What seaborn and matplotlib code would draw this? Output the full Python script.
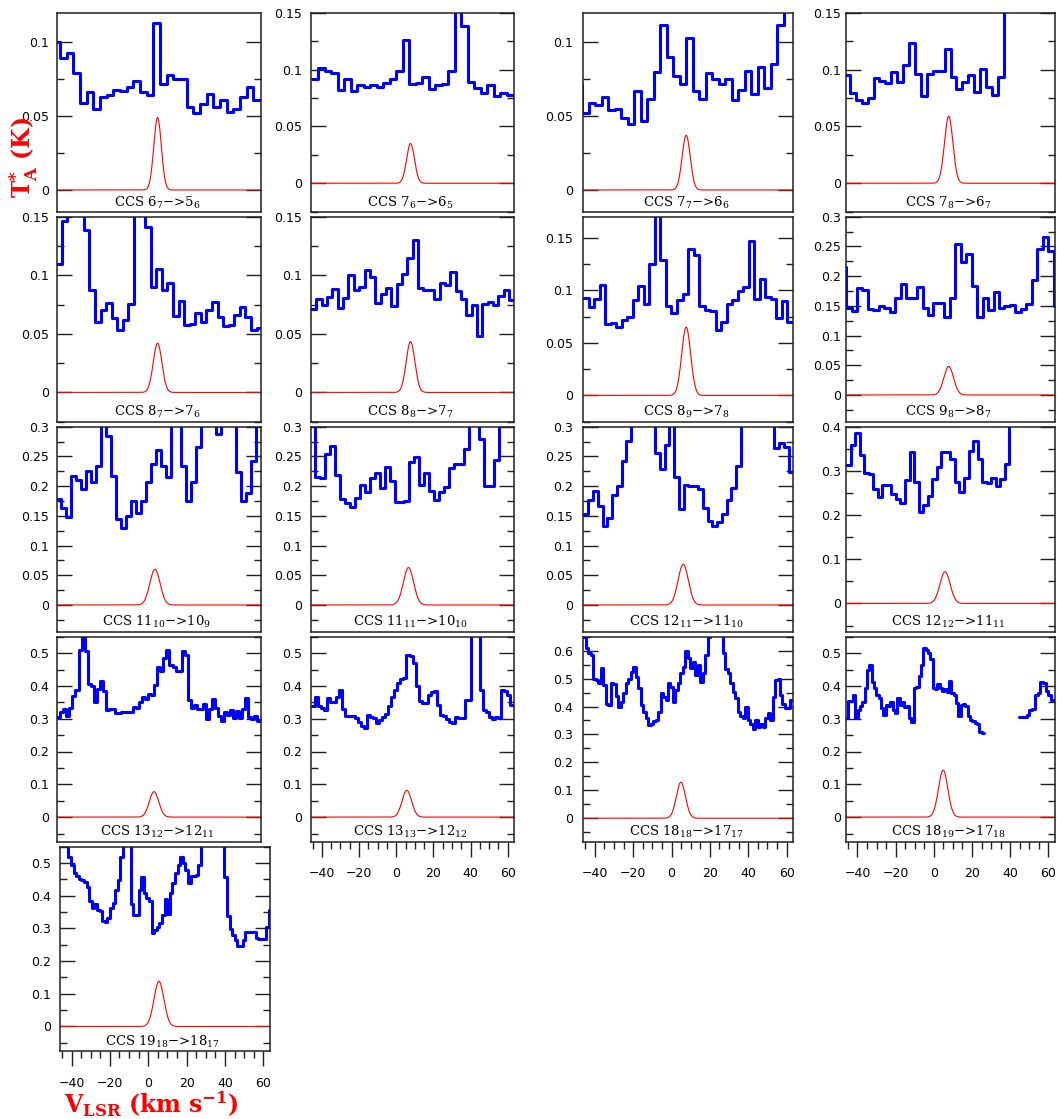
import numpy as np
import matplotlib
matplotlib.use("Agg")
import matplotlib.pyplot as plt
from matplotlib.ticker import MultipleLocator, FuncFormatter
import seaborn as sns

# ------------------------------------------------------------------
# Observed CCS spectra: T*_A (K) per channel, in order of velocity
# ------------------------------------------------------------------
t_6_7 = [0.100, 0.089, 0.093, 0.079, 0.059, 0.066, 0.055, 0.063, 0.064, 0.068,
         0.067, 0.070, 0.074, 0.066, 0.064, 0.113, 0.072, 0.078, 0.075, 0.075,
         0.056, 0.052, 0.058, 0.065, 0.056, 0.061, 0.053, 0.055, 0.063, 0.070, 0.061]
t_7_6 = [0.092, 0.101, 0.099, 0.097, 0.082, 0.092, 0.081, 0.086, 0.085, 0.086,
         0.085, 0.088, 0.092, 0.099, 0.126, 0.087, 0.088, 0.0935, 0.083, 0.086,
         0.087, 0.099, 0.160, 0.138, 0.089, 0.084, 0.079, 0.086, 0.077, 0.079, 0.078]
t_7_7 = [0.072, 0.052, 0.0587, 0.0576, 0.0628, 0.054, 0.055, 0.049, 0.0445, 0.067,
         0.047, 0.0616, 0.080, 0.112, 0.090, 0.077, 0.0716, 0.103, 0.067, 0.0614,
         0.079, 0.075, 0.0716, 0.075, 0.061, 0.068, 0.0806, 0.065, 0.083, 0.069,
         0.085, 0.112, 0.130, 0.130]
t_7_8 = [0.0956, 0.079, 0.073, 0.071, 0.075, 0.0926, 0.0897, 0.088, 0.0976, 0.0888,
         0.104, 0.123, 0.0965, 0.077, 0.096, 0.0985, 0.0985, 0.118, 0.0935, 0.083,
         0.0888, 0.0956, 0.080, 0.1006, 0.0847, 0.078, 0.0935, 0.17, 0.17, 0.17,
         0.17, 0.17, 0.17, 0.17, 0.17, 0.17]
t_8_7 = [0.1097, 0.146, 0.16, 0.16, 0.16, 0.139, 0.087, 0.0597, 0.070, 0.0767,
         0.0634, 0.053, 0.0614, 0.0756, 0.16, 0.16, 0.141, 0.0898, 0.105, 0.0875,
         0.0938, 0.0656, 0.078, 0.0577, 0.058, 0.0676, 0.060, 0.070, 0.0776, 0.064,
         0.0568, 0.0577, 0.066, 0.0733, 0.064, 0.0534, 0.055]
t_8_8 = [0.0713, 0.080, 0.0747, 0.0818, 0.088, 0.072, 0.081, 0.100, 0.0875, 0.090,
         0.1045, 0.0989, 0.076, 0.084, 0.089, 0.074, 0.0926, 0.101, 0.115, 0.130,
         0.0895, 0.0875, 0.0875, 0.0795, 0.0938, 0.0918, 0.103, 0.0866, 0.0795, 0.066,
         0.0747, 0.048, 0.0756, 0.0776, 0.075, 0.0824, 0.0875, 0.079]
t_8_9 = [0.0928, 0.0842, 0.0918, 0.1055, 0.068, 0.069, 0.065, 0.0715, 0.0744, 0.0906,
         0.104, 0.0874, 0.1246, 0.175, 0.129, 0.0855, 0.0785, 0.091, 0.096, 0.139,
         0.134, 0.0848, 0.081, 0.080, 0.062, 0.070, 0.087, 0.0906, 0.099, 0.103,
         0.147, 0.0918, 0.111, 0.0937, 0.0918, 0.0737, 0.0896, 0.0696]
t_9_8 = [0.216, 0.146, 0.142, 0.180, 0.177, 0.144, 0.143, 0.149, 0.147, 0.140,
         0.163, 0.187, 0.163, 0.164, 0.182, 0.147, 0.135, 0.155, 0.154, 0.131,
         0.163, 0.254, 0.224, 0.238, 0.183, 0.132, 0.164, 0.143, 0.174, 0.146,
         0.149, 0.151, 0.139, 0.144, 0.153, 0.193, 0.245, 0.266, 0.243, 0.150]
t_11_10 = [0.178, 0.164, 0.1475, 0.217, 0.210, 0.195, 0.226, 0.2075, 0.234, 0.31,
           0.284, 0.217, 0.144, 0.129, 0.150, 0.1755, 0.155, 0.175, 0.2075, 0.238,
           0.261, 0.234, 0.216, 0.31, 0.31, 0.234, 0.1755, 0.2075, 0.266, 0.31,
           0.31, 0.31, 0.288, 0.31, 0.31, 0.31, 0.223, 0.175, 0.188, 0.243, 0.31]
t_11_11 = [0.31, 0.215, 0.213, 0.2535, 0.2675, 0.219, 0.178, 0.171, 0.1655, 0.1795,
           0.202, 0.1895, 0.214, 0.2225, 0.196, 0.2315, 0.2085, 0.174, 0.174, 0.175,
           0.241, 0.2485, 0.202, 0.2215, 0.1925, 0.1765, 0.1905, 0.199, 0.231, 0.237,
           0.237, 0.2625, 0.31, 0.31, 0.279, 0.200, 0.201, 0.244, 0.31, 0.31, 0.31]
t_12_11 = [0.153, 0.177, 0.191, 0.167, 0.133, 0.146, 0.185, 0.200, 0.243, 0.276,
           0.31, 0.31, 0.31, 0.31, 0.31, 0.255, 0.228, 0.269, 0.31, 0.215,
           0.161, 0.202, 0.200, 0.200, 0.195, 0.163, 0.142, 0.133, 0.140, 0.153,
           0.176, 0.196, 0.234, 0.31, 0.31, 0.31, 0.31, 0.31, 0.31, 0.31,
           0.264, 0.272, 0.265, 0.224]
t_12_12 = [0.313, 0.358, 0.385, 0.336, 0.296, 0.294, 0.258, 0.2415, 0.269, 0.268,
           0.2475, 0.2355, 0.228, 0.279, 0.343, 0.2755, 0.2075, 0.2226, 0.243, 0.281,
           0.309, 0.343, 0.343, 0.326, 0.2755, 0.253, 0.285, 0.346, 0.368, 0.326,
           0.2755, 0.272, 0.285, 0.2665, 0.281, 0.3155, 0.42, 0.42, 0.42, 0.42,
           0.42, 0.42, 0.42, 0.42, 0.42, 0.42]
t_13_12 = [0.304, 0.321, 0.329, 0.308, 0.332, 0.369, 0.386, 0.510, 0.560, 0.505,
           0.406, 0.400, 0.352, 0.390, 0.416, 0.383, 0.327, 0.329, 0.329, 0.316,
           0.316, 0.321, 0.321, 0.321, 0.321, 0.337, 0.334, 0.352, 0.367, 0.359,
           0.375, 0.372, 0.403, 0.459, 0.444, 0.485, 0.510, 0.464, 0.457, 0.444,
           0.444, 0.505, 0.495, 0.357, 0.332, 0.342, 0.329, 0.329, 0.345, 0.298,
           0.329, 0.359, 0.332, 0.308, 0.294, 0.321, 0.311, 0.327, 0.301, 0.324,
           0.301, 0.329, 0.362, 0.304, 0.298, 0.308, 0.293]
t_13_13 = [0.339, 0.367, 0.339, 0.332, 0.327, 0.362, 0.352, 0.352, 0.367, 0.386,
           0.329, 0.308, 0.308, 0.308, 0.301, 0.291, 0.278, 0.273, 0.311, 0.304,
           0.301, 0.286, 0.296, 0.304, 0.314, 0.339, 0.367, 0.388, 0.410, 0.420,
           0.423, 0.495, 0.490, 0.469, 0.400, 0.355, 0.349, 0.347, 0.372, 0.380,
           0.383, 0.342, 0.311, 0.308, 0.298, 0.291, 0.286, 0.304, 0.301, 0.301,
           0.357, 0.357, 0.58, 0.58, 0.58, 0.388, 0.327, 0.321, 0.304, 0.298,
           0.304, 0.301, 0.388, 0.383, 0.372, 0.342]
t_18_18 = [0.65, 0.608, 0.593, 0.584, 0.500, 0.495, 0.485, 0.537, 0.477, 0.408,
           0.405, 0.485, 0.480, 0.437, 0.399, 0.417, 0.447, 0.483, 0.500, 0.525,
           0.540, 0.507, 0.465, 0.405, 0.381, 0.360, 0.333, 0.337, 0.349, 0.353,
           0.381, 0.449, 0.435, 0.425, 0.485, 0.471, 0.417, 0.459, 0.483, 0.519,
           0.542, 0.600, 0.572, 0.537, 0.560, 0.513, 0.548, 0.489, 0.519, 0.584,
           0.65, 0.70, 0.70, 0.70, 0.70, 0.70, 0.590, 0.533, 0.519, 0.485,
           0.453, 0.429, 0.381, 0.365, 0.360, 0.399, 0.353, 0.337, 0.321, 0.351,
           0.327, 0.337, 0.327, 0.360, 0.377, 0.351, 0.435, 0.495, 0.497, 0.441,
           0.408, 0.396, 0.393, 0.423]
# the 18_19 spectrum has no data between about +26 and +45 km/s
t_18_19_low = [0.301, 0.355, 0.355, 0.372, 0.301, 0.327, 0.339, 0.352, 0.393, 0.449,
               0.464, 0.413, 0.393, 0.372, 0.362, 0.332, 0.311, 0.342, 0.339, 0.352,
               0.327, 0.316, 0.362, 0.342, 0.352, 0.335, 0.339, 0.301, 0.291, 0.393,
               0.398, 0.429, 0.464, 0.515, 0.510, 0.500, 0.482, 0.393, 0.390, 0.406,
               0.393, 0.383, 0.390, 0.380, 0.416, 0.378, 0.372, 0.347, 0.308, 0.342,
               0.345, 0.339, 0.308, 0.296, 0.294, 0.286, 0.284, 0.260, 0.257]
t_18_19_high = [0.306, 0.306, 0.306, 0.311, 0.327, 0.329, 0.372, 0.378, 0.413, 0.408,
                0.383, 0.372, 0.357]
t_19_18 = [0.58, 0.58, 0.56, 0.52, 0.495, 0.469, 0.461, 0.451, 0.449, 0.441,
           0.427, 0.383, 0.362, 0.376, 0.357, 0.352, 0.324, 0.321, 0.332, 0.362,
           0.378, 0.418, 0.449, 0.52, 0.58, 0.58, 0.58, 0.376, 0.342, 0.342,
           0.418, 0.457, 0.408, 0.393, 0.383, 0.286, 0.296, 0.304, 0.318, 0.342,
           0.390, 0.345, 0.408, 0.439, 0.469, 0.495, 0.518, 0.500, 0.480, 0.439,
           0.459, 0.459, 0.464, 0.495, 0.58, 0.58, 0.58, 0.58, 0.58, 0.58,
           0.58, 0.58, 0.58, 0.457, 0.337, 0.298, 0.281, 0.265, 0.247, 0.247,
           0.265, 0.288, 0.288, 0.288, 0.288, 0.270, 0.267, 0.267, 0.267, 0.304, 0.357]

spectra = [[t_6_7], [t_7_6], [t_7_7], [t_7_8],
           [t_8_7], [t_8_8], [t_8_9], [t_9_8],
           [t_11_10], [t_11_11], [t_12_11], [t_12_12],
           [t_13_12], [t_13_13], [t_18_18], [t_18_19_low, t_18_19_high],
           [t_19_18]]

# Velocity (km/s) of the first and last channel centre of each spectrum segment
channel_span = [[(-46.4, 61.2)], [(-43.6, 61.3)], [(-48.2, 63.7)], [(-45.5, 63.0)],
                [(-45.2, 62.6)], [(-44.4, 62.2)], [(-44.5, 61.7)], [(-47.4, 64.2)],
                [(-45.4, 62.2)], [(-45.0, 61.9)], [(-44.7, 62.4)], [(-44.8, 62.2)],
                [(-45.2, 62.4)], [(-44.6, 62.2)], [(-45.3, 62.4)],
                [(-45.4, 25.7), (45.1, 62.2)],
                [(-45.0, 63.5)]]

# Gaussian line model: peak (K), centre (km/s), FWHM (km/s)
model_peak = [0.049, 0.035, 0.037, 0.059,
              0.042, 0.0434, 0.065, 0.048,
              0.060, 0.063, 0.0685, 0.0717,
              0.0776, 0.0816, 0.129, 0.143,
              0.138]
model_vel = [7.9, 7.7, 7.65, 7.8,
             7.9, 7.7, 7.65, 7.8,
             6.5, 6.6, 6.1, 5.9,
             6.0, 5.7, 4.9, 4.9,
             5.6]
model_fwhm = [4.8, 5.0, 5.0, 5.2,
              5.5, 5.5, 5.5, 6.0,
              6.5, 6.5, 6.3, 6.3,
              6.0, 6.0, 5.6, 5.8,
              6.1]

labels = ["CCS 6$_{7}$\u2212>5$_{6}$", "CCS 7$_{6}$\u2212>6$_{5}$",
          "CCS 7$_{7}$\u2212>6$_{6}$", "CCS 7$_{8}$\u2212>6$_{7}$",
          "CCS 8$_{7}$\u2212>7$_{6}$", "CCS 8$_{8}$\u2212>7$_{7}$",
          "CCS 8$_{9}$\u2212>7$_{8}$", "CCS 9$_{8}$\u2212>8$_{7}$",
          "CCS 11$_{10}$\u2212>10$_{9}$", "CCS 11$_{11}$\u2212>10$_{10}$",
          "CCS 12$_{11}$\u2212>11$_{10}$", "CCS 12$_{12}$\u2212>11$_{11}$",
          "CCS 13$_{12}$\u2212>12$_{11}$", "CCS 13$_{13}$\u2212>12$_{12}$",
          "CCS 18$_{18}$\u2212>17$_{17}$", "CCS 18$_{19}$\u2212>17$_{18}$",
          "CCS 19$_{18}$\u2212>18$_{17}$"]

# Temperature axis range and tick spacing of each panel
y_low = [-0.0147, -0.025, -0.0147, -0.025,
         -0.025, -0.025, -0.025, -0.045,
         -0.045, -0.045, -0.045, -0.064,
         -0.075, -0.075, -0.084, -0.075,
         -0.075]
y_high = [0.12, 0.15, 0.12, 0.15,
          0.15, 0.15, 0.17, 0.30,
          0.30, 0.30, 0.30, 0.40,
          0.55, 0.55, 0.65, 0.55,
          0.55]
y_major = [0.05] * 12 + [0.1] * 5
y_major[11] = 0.1
y_minor = [m / 2 for m in y_major]

v_range = (-46.0, 63.5)

# ------------------------------------------------------------------
sns.set_theme(style="ticks")
plt.rcParams["font.family"] = ["DejaVu Sans", "DejaVu Serif"]
plt.rcParams["mathtext.fontset"] = "dejavuserif"
plt.rcParams["axes.linewidth"] = 1.1
plt.rcParams["axes.edgecolor"] = "#202020"
plt.rcParams["axes.facecolor"] = "white"
plt.rcParams["figure.facecolor"] = "white"

W, H = 1057, 1119
fig = plt.figure(figsize=(W / 100, H / 100), dpi=100)

# panel frames in pixels: (left, width) per column, (top, bottom) per row
col_px = [(57.3, 203.7), (310.7, 203.6), (583.3, 210.0), (846.0, 209.0)]
row_px = [(12.7, 211.7), (216.7, 421.7), (426.7, 631.7), (636.7, 841.7), (846.7, 1051.0)]
label_pad = [5.8, 6.5, 7.5, 3.5]
bottom_panels = {13, 14, 15, 16}

fmt = FuncFormatter(lambda y, _: "0" if abs(y) < 1e-9 else f"{round(y, 4):g}")
v_model = np.linspace(-60, 80, 1400)

for i in range(17):
    row, col = divmod(i, 4)
    left, width = col_px[col]
    pad = label_pad[col]
    if i == 16:
        left, width, pad = 60.0, 210.0, 6.7
    top, bottom = row_px[row]
    ax = fig.add_axes([left / W, 1 - bottom / H, width / W, (bottom - top) / H])

    # observed spectrum drawn as channel histogram
    for seg, (v0, v1) in zip(spectra[i], channel_span[i]):
        t = np.asarray(seg, dtype=float)
        v = np.linspace(v0, v1, len(t))
        dv = v[1] - v[0]
        edges = np.append(v - dv / 2, v[-1] + dv / 2)
        sns.lineplot(x=edges, y=np.append(t, t[-1]), drawstyle="steps-post",
                     color="#0000ff", linewidth=2.2, sort=False, estimator=None,
                     ax=ax)

    # Gaussian model
    sigma = model_fwhm[i] / (2 * np.sqrt(2 * np.log(2)))
    prof = model_peak[i] * np.exp(-0.5 * ((v_model - model_vel[i]) / sigma) ** 2)
    sns.lineplot(x=v_model, y=prof, color="#ff0000", linewidth=0.8,
                 sort=False, estimator=None, ax=ax)

    ax.set_xlim(*v_range)
    ax.set_ylim(y_low[i], y_high[i])
    ax.set_xlabel("")
    ax.set_ylabel("")
    ax.xaxis.set_major_locator(MultipleLocator(20))
    ax.xaxis.set_minor_locator(MultipleLocator(5))
    ax.yaxis.set_major_locator(MultipleLocator(y_major[i]))
    ax.yaxis.set_minor_locator(MultipleLocator(y_minor[i]))
    ax.yaxis.set_major_formatter(fmt)

    ax.tick_params(axis="y", which="both", direction="in", left=True, right=True,
                   color="#202020", width=1.0, labelsize=9, pad=pad, labelcolor="black")
    ax.tick_params(axis="y", which="major", length=10.5)
    ax.tick_params(axis="y", which="minor", length=5)
    if i in bottom_panels:
        ax.tick_params(axis="x", which="both", direction="out", bottom=True, top=False,
                       labelbottom=True, color="#202020", width=1.0, labelsize=9,
                       pad=8, labelcolor="black")
        ax.tick_params(axis="x", which="major", length=10.5)
        ax.tick_params(axis="x", which="minor", length=5)
    else:
        ax.tick_params(axis="x", which="both", bottom=False, top=False,
                       labelbottom=False)
    for s in ax.spines.values():
        s.set_visible(True)

    ax.text(0.49, 0.026, labels[i], transform=ax.transAxes, ha="center",
            va="baseline", fontsize=9.5, family="DejaVu Serif", color="black")

fig.text(24 / W, 1 - 157 / H, r"$\mathbf{T^{*}_{A}\ (K)}$", rotation=90,
         color="#ff0000", fontsize=17, ha="center", va="center")
fig.text(151 / W, 1 - 1104 / H, r"$\mathbf{V_{LSR}\ (km\ s^{-1})}$",
         color="#ff0000", fontsize=17, ha="center", va="center")

fig.savefig("out.png", dpi=100)
